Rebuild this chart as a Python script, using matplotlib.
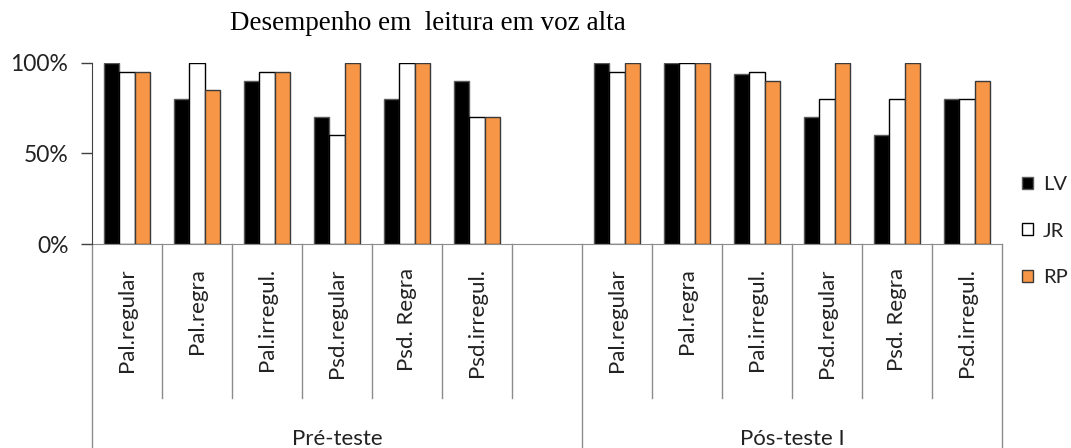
import matplotlib
matplotlib.use("Agg")
import matplotlib.pyplot as plt
import numpy as np
from matplotlib.ticker import FuncFormatter

title = "Desempenho em  leitura em voz alta"
groups = ["Pré-teste", "Pós-teste I"]
categories = ["Pal.regular", "Pal.regra", "Pal.irregul.", "Psd.regular", "Psd. Regra", "Psd.irregul."]
series_names = ["LV", "JR", "RP"]
pre_LV = [100, 80, 90, 70, 80, 90]
pre_JR = [95, 100, 95, 60, 100, 70]
pre_RP = [95, 85, 95, 100, 100, 70]
pos_LV = [100, 100, 94, 70, 60, 80]
pos_JR = [95, 100, 95, 80, 80, 80]
pos_RP = [100, 100, 90, 100, 100, 90]
yticks = [0, 50, 100]

W, H = 1071, 448
fig = plt.figure(figsize=(W / 100, H / 100), dpi=100)
ax = fig.add_axes([92 / W, (H - 244) / H, (1002 - 92) / W, (244 - 62.7) / H])

font = ["Lato", "DejaVu Sans"]
colors = ["#000000", "#ffffff", "#F79646"]
edges = ["#595959", "#000000", "#3a3a3a"]

n = len(categories)
slots_pre = np.arange(n)
slots_pos = np.arange(n) + n + 1
data = {
    "LV": (pre_LV, pos_LV),
    "JR": (pre_JR, pos_JR),
    "RP": (pre_RP, pos_RP),
}
bw = 0.22
for i, name in enumerate(series_names):
    pre, pos = data[name]
    x = np.concatenate([slots_pre, slots_pos]) + 0.5 + (i - 1) * bw
    vals = list(pre) + list(pos)
    ax.bar(x, vals, width=bw, color=colors[i], edgecolor=edges[i], linewidth=1.0,
           label=name, zorder=3)

nslots = 2 * n + 1
ax.set_xlim(0, nslots)
ax.set_ylim(0, 100)
ax.set_yticks(yticks)
ax.yaxis.set_major_formatter(FuncFormatter(lambda v, p: f"{int(v)}%"))
ax.tick_params(axis="y", length=8, width=1, color="#404040", labelsize=16.5, pad=9,
               labelcolor="#222222")
for lab in ax.get_yticklabels():
    lab.set_family(font)
ax.set_xticks([])
for s in ["top", "right"]:
    ax.spines[s].set_visible(False)
ax.spines["left"].set_color("#404040")
ax.spines["bottom"].set_color("#8c8c8c")
ax.spines["left"].set_zorder(4)

trans = ax.get_xaxis_transform()
ah = 244 - 62.7
y_inner = -(398 - 244) / ah
y_outer = -(H + 5 - 244) / ah
for k in range(nslots + 1):
    yb = y_outer if k in (0, n + 1, nslots) else y_inner
    ax.plot([k, k], [0, yb], transform=trans, color="#8c8c8c", lw=1.0, clip_on=False)

y_lab = -(268 - 244) / ah
for slots in (slots_pre, slots_pos):
    for s, c in zip(slots, categories):
        ax.text(s + 0.5, y_lab, c, transform=trans, rotation=90, ha="center", va="top",
                fontsize=16, family=font, color="#222222")

y_grp = -(429 - 244) / ah
ax.text(n / 2 + 0.5, y_grp, groups[0], transform=trans, ha="center", va="top",
        fontsize=16, family=font, color="#222222")
ax.text(n + 1 + n / 2, y_grp, groups[1], transform=trans, ha="center", va="top",
        fontsize=16, family=font, color="#222222")

fig.text(428 / W, 1 - 23 / H, title, ha="center", va="center", fontsize=19.5,
         family=["Liberation Serif", "DejaVu Serif"], color="#000000")

leg = fig.legend(loc="center left", bbox_to_anchor=(1021.5 / W, 1 - 231 / H), frameon=False,
                 borderpad=0, borderaxespad=0,
                 handlelength=0.55, handleheight=0.55, handletextpad=0.5,
                 labelspacing=1.45, prop={"family": font, "size": 14.5})
for t in leg.get_texts():
    t.set_color("#222222")

fig.savefig("out.png", dpi=100)
